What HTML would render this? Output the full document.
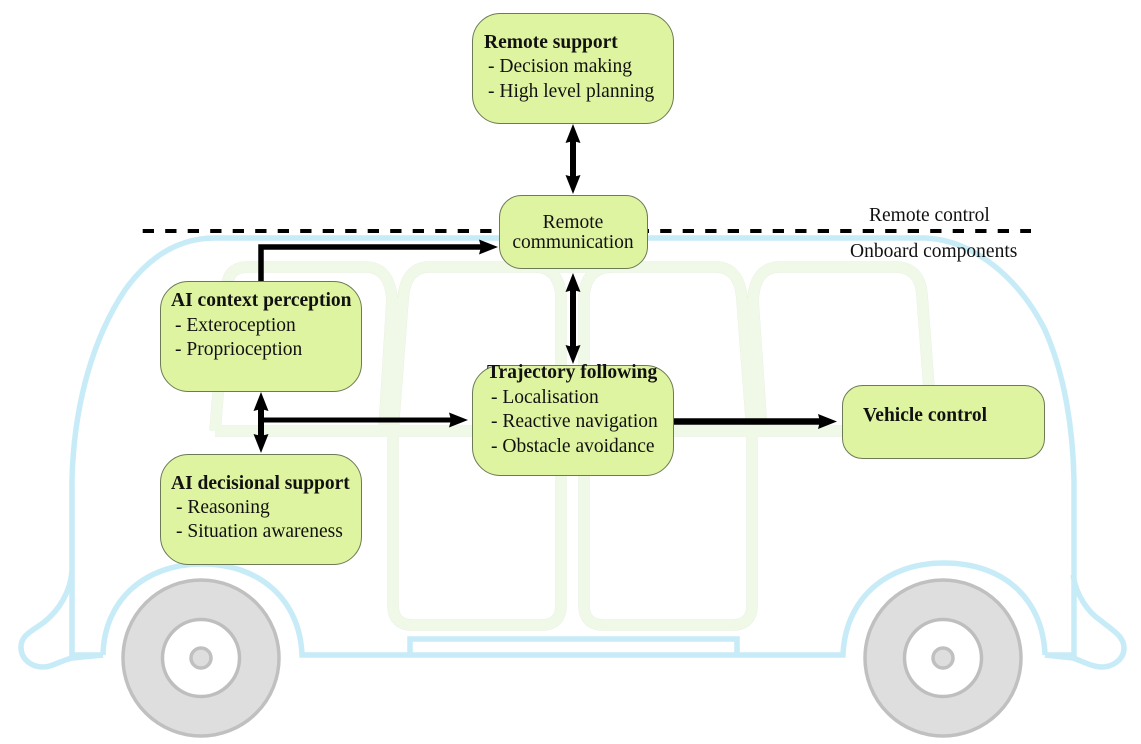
<!DOCTYPE html>
<html><head><meta charset="utf-8"><style>
html,body{margin:0;padding:0;background:#fff}
svg{display:block}
text{font-family:"Liberation Serif",serif;font-size:19.5px;fill:#111}
.b{font-weight:bold}
.box{fill:#dff4a0;stroke:#6c7a55;stroke-width:1}
.win{fill:none;stroke-linejoin:round}
</style></head><body>
<svg width="1141" height="744" viewBox="0 0 1141 744" xmlns="http://www.w3.org/2000/svg">
<defs>
<g id="w">
<path d="M215,431 L227,285 Q229,267 248,267 H365 Q390,267 392,300 L384,431"/>
<path d="M393,431 L403,300 Q405,267 430,267 H535 Q558,267 561,295 V605 Q561,625 541,625 H413 Q393,625 393,605 V431"/>
<path d="M752,431 L742,300 Q740,267 715,267 H612 Q587,267 584,295 V605 Q584,625 604,625 H732 Q752,625 752,605 V431"/>
<path d="M762,431 L753,300 Q755,267 780,267 H895 Q920,267 922,295 L929,388"/>
<path d="M215,431 H842"/>
<path d="M535,267 H612"/>
</g>
<g id="bus">
<path d="M103,655 H72 V480 C74,400 95,335 125,290 C150,255 180,238 215,238 H925 C975,240 1020,280 1045,330 C1065,375 1073,430 1074,480 V655 H1045"/>
<path d="M103,655 C104,600 145,564 202,564 C260,564 300,600 302,655 H843 C845,600 885,563 944,563 C1005,563 1043,600 1045,655"/>
<path d="M410,655 V639 H737 V655"/>
<path d="M72,570 C71,590 60,610 43,623 C30,632 21,636 21,647 C21,660 32,667 43,667 C52,667 60,661 72,658 L103,655"/>
<path d="M1073,575 C1076,595 1088,612 1100,620 C1112,630 1124,636 1124,648 C1124,660 1112,667 1102,667 C1092,667 1082,661 1073,658 L1045,655"/>
</g>
<g id="wheel">
<circle r="78" fill="#dedede" stroke="#c0c0c0" stroke-width="3.5"/>
<circle r="38.5" fill="#fff" stroke="#bebebe" stroke-width="3.5"/>
<circle r="10" fill="#dedede" stroke="#c0c0c0" stroke-width="3.5"/>
</g>
</defs>

<use href="#w" class="win" style="stroke:#e3e8dc;stroke-width:11.5"/>
<use href="#w" class="win" style="stroke:#f0f9e8;stroke-width:11"/>
<use href="#bus" fill="none" stroke="#c7ecf8" stroke-width="5.5"/>
<use href="#wheel" x="201" y="658"/>
<use href="#wheel" x="943" y="658"/>

<path d="M142.7,231 H1031" stroke="#000" stroke-width="4" stroke-dasharray="11.3,11.2" fill="none"/>

<rect class="box" x="472.5" y="13.5" width="201" height="110" rx="28"/>
<rect class="box" x="499.5" y="195.5" width="148" height="73" rx="22"/>
<rect class="box" x="160.5" y="281.5" width="201" height="110" rx="28"/>
<rect class="box" x="160.5" y="454.5" width="201" height="110" rx="28"/>
<rect class="box" x="472.5" y="365.5" width="201" height="110" rx="28"/>
<rect class="box" x="842.5" y="385.5" width="202" height="73" rx="20"/>

<g fill="none" stroke="#000">
<path d="M573,135 V183" stroke-width="6"/>
<path d="M573,285 V352" stroke-width="6"/>
<path d="M261,404 V441" stroke-width="6"/>
<path d="M261,420 H455" stroke-width="5"/>
<path d="M261,281 V247 H486" stroke-width="5.5"/>
<path d="M674,421.5 H825" stroke-width="6.5"/>
</g>
<g fill="#000">
<path d="M573,124 L580.5,143 L573,141 L565.5,143Z"/>
<path d="M573,194 L580.5,175 L573,177 L565.5,175Z"/>
<path d="M573,273 L580.5,292 L573,290 L565.5,292Z"/>
<path d="M573,364 L580.5,345 L573,347 L565.5,345Z"/>
<path d="M261,392 L268.5,411 L261,409 L253.5,411Z"/>
<path d="M261,453 L268.5,434 L261,436 L253.5,434Z"/>
<path d="M468,420 L449,412.5 L451,420 L449,427.5Z"/>
<path d="M498,247 L479,239.5 L481,247 L479,254.5Z"/>
<path d="M837,421.5 L818,414 L820,421.5 L818,429Z"/>
</g>

<text class="b" x="484" y="48">Remote support</text>
<text x="488" y="72">- Decision making</text>
<text x="488" y="97">- High level planning</text>

<text x="573" y="228" text-anchor="middle">Remote</text>
<text x="573" y="248" text-anchor="middle">communication</text>

<text class="b" x="171" y="306">AI context perception</text>
<text x="175" y="331">- Exteroception</text>
<text x="175" y="355">- Proprioception</text>

<text class="b" x="171" y="489">AI decisional support</text>
<text x="176" y="513">- Reasoning</text>
<text x="176" y="537">- Situation awareness</text>

<text class="b" x="487" y="378">Trajectory following</text>
<text x="491" y="403">- Localisation</text>
<text x="491" y="427">- Reactive navigation</text>
<text x="491" y="452">- Obstacle avoidance</text>

<text class="b" x="863" y="421">Vehicle control</text>

<text x="869" y="221">Remote control</text>
<text x="850" y="257">Onboard components</text>
</svg>
</body></html>
